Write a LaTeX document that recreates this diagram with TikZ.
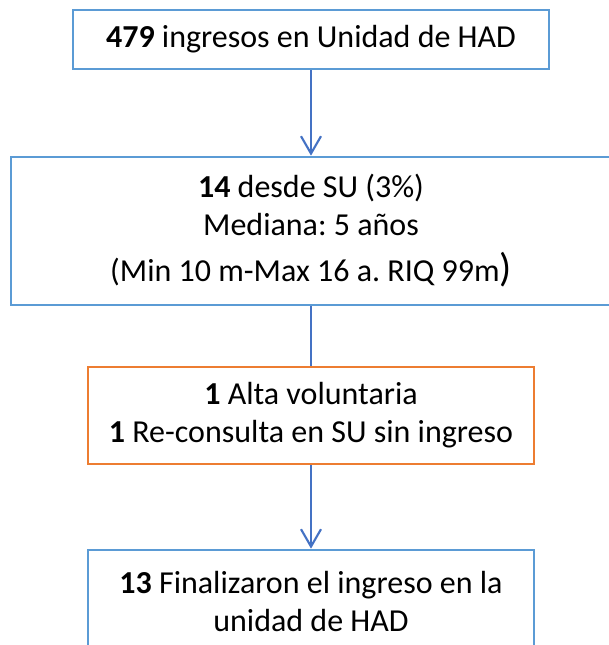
\documentclass[tikz,border=0pt]{standalone}
\usepackage{fontspec}
\setmainfont{Carlito}
\usetikzlibrary{arrows.meta, positioning}

\definecolor{boxblue}{HTML}{5B9BD5}
\definecolor{arrowblue}{HTML}{4472C4}
\definecolor{boxorange}{HTML}{ED7D31}

\begin{document}
\frenchspacing
\begin{tikzpicture}[x=0.75pt, y=-0.75pt]
    \tikzset{BoxStyle/.style = {draw=boxblue, line width=2pt, fill=white,
        align=center, inner sep=0pt, font=\fontsize{24}{28.5}\selectfont}}
    \tikzset{OrangeBoxStyle/.style = {BoxStyle, draw=boxorange}}
    \tikzset{LineStyle/.style = {draw=arrowblue, line width=1.6pt}}
    \tikzset{ArrowStyle/.style = {LineStyle, -{Straight Barb[length=13pt, width=15pt, line width=1.6pt]}}}
    \useasboundingbox (0,0) rectangle (609,645);
    \clip (0,0) rectangle (609,645);

    \node[BoxStyle, minimum width=357pt, minimum height=44.25pt] (had) at (311,39.5)
        {\textbf{479} ingresos en Unidad de HAD};
    \node[BoxStyle, minimum width=450pt, minimum height=111pt] (su) at (311,231)
        {\textbf{14} desde SU (3\%)\\Mediana: 5 años\\[6pt]
         (Min 10 m-Max 16 a. RIQ 99m{\fontsize{30}{30}\selectfont )}};
    \node[OrangeBoxStyle, minimum width=334.5pt, minimum height=72.75pt] (alta) at (311,415.5)
        {\textbf{1} Alta voluntaria\\\textbf{1} Re-consulta en SU sin ingreso};
    \node[BoxStyle, minimum width=334.5pt, minimum height=78pt] (fin) at (311,602)
        {\textbf{13} Finalizaron el ingreso en la\\unidad de HAD};

    \draw[ArrowStyle] (had) -- (su);
    \draw[LineStyle] (su) -- (alta);
    \draw[ArrowStyle] (alta) -- (fin);
\end{tikzpicture}
\end{document}
